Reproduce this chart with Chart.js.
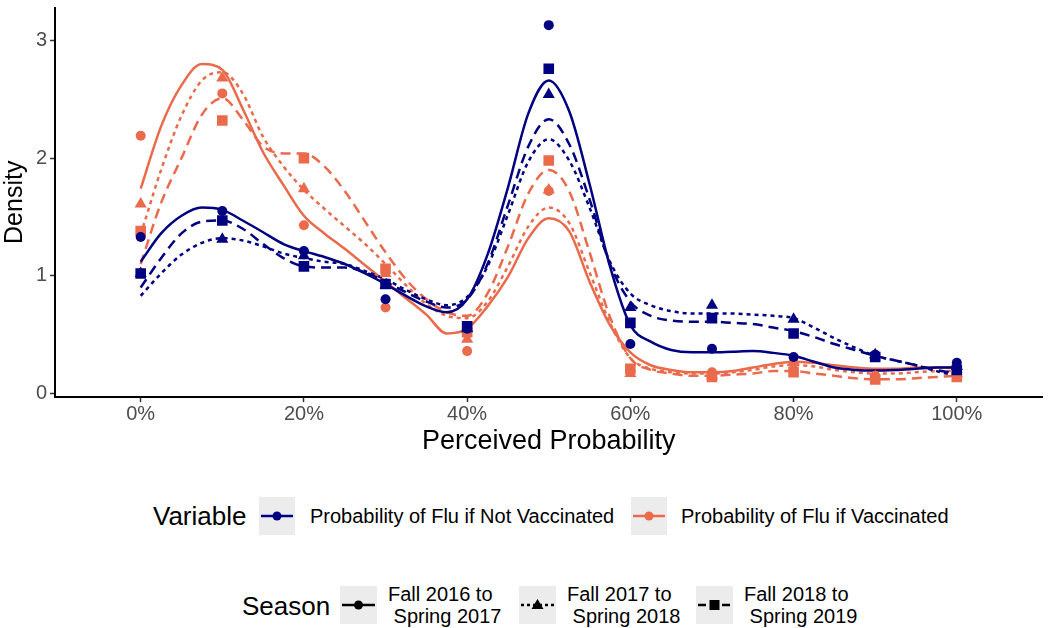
<!DOCTYPE html>
<html>
<head>
<meta charset="utf-8">
<script src="https://cdn.jsdelivr.net/npm/chart.js@4"></script>
<style>
  body { margin: 0; background: #fff; font-family: "Liberation Sans", Arial, sans-serif; }
  #page { position: relative; width: 1050px; height: 628px; overflow: hidden; }
  #wrap { position: absolute; left: 0; top: 0; width: 1050px; height: 470px; }
  .ltitle { position: absolute; font-size: 26px; color: #000; line-height: 1; }
  .lkey { position: absolute; }
  .ltext { position: absolute; font-size: 20px; color: #000; line-height: 22px; white-space: nowrap; }
</style>
</head>
<body>
<div id="page">
  <div id="wrap"><canvas id="chart"></canvas></div>

  <div class="ltitle" style="left:153px; top:503px;">Variable</div>
  <svg class="lkey" id="keyNV" style="left:259px; top:497px;" width="36" height="38"></svg>
  <div class="ltext" style="left:310px; top:505px;">Probability of Flu if Not Vaccinated</div>
  <svg class="lkey" id="keyV" style="left:631px; top:497px;" width="36" height="38"></svg>
  <div class="ltext" style="left:681px; top:505px;">Probability of Flu if Vaccinated</div>

  <div class="ltitle" style="left:242px; top:593px;">Season</div>
  <svg class="lkey" id="keyS1" style="left:340px; top:586px;" width="37" height="38"></svg>
  <div class="ltext" style="left:388px; top:583px;">Fall 2016 to<br>&nbsp;Spring 2017</div>
  <svg class="lkey" id="keyS2" style="left:519px; top:586px;" width="37" height="38"></svg>
  <div class="ltext" style="left:567px; top:583px;">Fall 2017 to<br>&nbsp;Spring 2018</div>
  <svg class="lkey" id="keyS3" style="left:696px; top:586px;" width="37" height="38"></svg>
  <div class="ltext" style="left:744px; top:583px;">Fall 2018 to<br>&nbsp;Spring 2019</div>
</div>

<script>
// observed points, one value per 10% step
const pointX = [0, 10, 20, 30, 40, 50, 60, 70, 80, 90, 100];
const notVacc2016 = [1.33, 1.55, 1.21, 0.80, 0.55, 3.13, 0.42, 0.38, 0.31, 0.33, 0.26];
const notVacc2017 = [1.02, 1.31, 1.17, 0.92, 0.55, 2.54, 0.73, 0.75, 0.63, 0.33, 0.23];
const notVacc2018 = [1.02, 1.47, 1.08, 0.93, 0.57, 2.76, 0.60, 0.64, 0.51, 0.31, 0.20];
const vacc2016 = [2.19, 2.55, 1.43, 0.73, 0.36, 1.72, 0.19, 0.18, 0.26, 0.15, 0.20];
const vacc2017 = [1.61, 2.68, 1.74, 1.02, 0.46, 1.73, 0.17, 0.15, 0.27, 0.14, 0.17];
const vacc2018 = [1.38, 2.32, 2.00, 1.06, 0.52, 1.98, 0.21, 0.14, 0.18, 0.12, 0.14];

// density curves every 2.5%
const curveX = [0, 2.5, 5, 7.5, 10, 12.5, 15, 17.5, 20, 22.5, 25, 27.5, 30, 32.5, 35, 37.5, 40,
  42.5, 45, 47.5, 50, 52.5, 55, 57.5, 60, 62.5, 65, 67.5, 70, 72.5, 75, 77.5, 80, 82.5, 85, 87.5,
  90, 92.5, 95, 97.5, 100];
const notVaccCurve2016 = [1.12, 1.36, 1.51, 1.58, 1.56, 1.47, 1.37, 1.27, 1.21, 1.16, 1.10, 1.02, 0.93,
  0.83, 0.74, 0.69, 0.80, 1.18, 1.75, 2.38, 2.66, 2.40, 1.78, 1.08, 0.58, 0.44, 0.37, 0.35, 0.35,
  0.355, 0.36, 0.345, 0.32, 0.27, 0.22, 0.20, 0.195, 0.20, 0.21, 0.22, 0.22];
const notVaccCurve2017 = [0.83, 1.02, 1.18, 1.28, 1.32, 1.30, 1.25, 1.19, 1.15, 1.12, 1.10, 1.04, 0.97,
  0.88, 0.80, 0.75, 0.82, 1.08, 1.52, 1.97, 2.16, 1.98, 1.58, 1.12, 0.85, 0.75, 0.70, 0.68, 0.68,
  0.68, 0.67, 0.66, 0.64, 0.56, 0.47, 0.39, 0.32, 0.28, 0.24, 0.19, 0.15];
const notVaccCurve2018 = [0.90, 1.15, 1.36, 1.46, 1.47, 1.40, 1.27, 1.15, 1.08, 1.07, 1.07, 1.03, 0.95,
  0.86, 0.78, 0.73, 0.80, 1.10, 1.60, 2.10, 2.33, 2.12, 1.65, 1.10, 0.78, 0.66, 0.62, 0.61, 0.61,
  0.60, 0.59, 0.56, 0.53, 0.48, 0.42, 0.37, 0.32, 0.28, 0.24, 0.20, 0.17];
const vaccCurve2016 = [1.74, 2.27, 2.62, 2.80, 2.75, 2.42, 2.05, 1.77, 1.51, 1.36, 1.23, 1.09, 0.95,
  0.81, 0.67, 0.51, 0.55, 0.74, 0.99, 1.32, 1.49, 1.38, 0.95, 0.58, 0.35, 0.24, 0.20, 0.18, 0.18,
  0.19, 0.22, 0.25, 0.27, 0.26, 0.24, 0.22, 0.21, 0.21, 0.22, 0.22, 0.22];
const vaccCurve2017 = [1.35, 1.90, 2.36, 2.66, 2.73, 2.55, 2.18, 1.93, 1.73, 1.57, 1.42, 1.27, 1.10,
  0.92, 0.76, 0.66, 0.64, 0.78, 1.08, 1.42, 1.58, 1.45, 1.03, 0.60, 0.30, 0.21, 0.18, 0.17, 0.17,
  0.18, 0.20, 0.23, 0.24, 0.23, 0.20, 0.18, 0.17, 0.17, 0.18, 0.19, 0.19];
const vaccCurve2018 = [1.10, 1.62, 2.00, 2.37, 2.51, 2.33, 2.10, 2.04, 2.04, 1.93, 1.72, 1.46, 1.20,
  0.97, 0.80, 0.69, 0.66, 0.85, 1.25, 1.70, 1.90, 1.72, 1.20, 0.65, 0.30, 0.20, 0.17, 0.15, 0.15,
  0.16, 0.17, 0.19, 0.19, 0.17, 0.15, 0.13, 0.12, 0.12, 0.13, 0.14, 0.15];

const xTicks = [0, 20, 40, 60, 80, 100];
const yTicks = [0, 1, 2, 3];

const NAVY = '#000080';
const CORAL = '#EA6A4C';
const dashes = { s2016: [], s2017: [4, 4], s2018: [10, 6] };
const shapes = { s2016: 'circle', s2017: 'triangle', s2018: 'rect' };
const radii = { s2016: 5, s2017: 7, s2018: 7.5 };

function pts(xs, ys) {
    return xs.map((x, i) => ({ x: x, y: ys[i] }));
}

function curveSet(ys, color, season) {
    return {
        data: pts(curveX, ys),
        showLine: true,
        borderColor: color,
        borderWidth: 2.5,
        borderDash: dashes[season],
        pointRadius: 0,
        cubicInterpolationMode: 'monotone',
        fill: false
    };
}

function pointSet(ys, color, season) {
    return {
        data: pts(pointX, ys),
        showLine: false,
        backgroundColor: color,
        borderColor: color,
        borderWidth: 0,
        pointStyle: shapes[season],
        pointRadius: radii[season]
    };
}

const datasets = [
    pointSet(notVacc2016, NAVY, 's2016'),
    pointSet(notVacc2017, NAVY, 's2017'),
    pointSet(notVacc2018, NAVY, 's2018'),
    pointSet(vacc2016, CORAL, 's2016'),
    pointSet(vacc2017, CORAL, 's2017'),
    pointSet(vacc2018, CORAL, 's2018'),
    curveSet(notVaccCurve2016, NAVY, 's2016'),
    curveSet(notVaccCurve2017, NAVY, 's2017'),
    curveSet(notVaccCurve2018, NAVY, 's2018'),
    curveSet(vaccCurve2016, CORAL, 's2016'),
    curveSet(vaccCurve2017, CORAL, 's2017'),
    curveSet(vaccCurve2018, CORAL, 's2018')
];

const ctx = document.getElementById('chart').getContext('2d');
const chart = new Chart(ctx, {
    type: 'scatter',
    data: { datasets: datasets },
    options: {
        responsive: true,
        maintainAspectRatio: false,
        animation: false,
        layout: { padding: { top: 3, right: 2, left: 0, bottom: 0 } },
        plugins: {
            legend: { display: false },
            tooltip: { enabled: false }
        },
        scales: {
            x: {
                type: 'linear',
                min: -10.5,
                max: 110.5,
                afterBuildTicks: function(scale) {
                    scale.ticks = xTicks.map(v => ({ value: v }));
                },
                afterFit: function(scale) {
                    scale.height = 73;
                    scale.paddingLeft = 0;
                    scale.paddingRight = 0;
                },
                ticks: {
                    color: '#4d4d4d',
                    font: { family: 'Liberation Sans', size: 20 },
                    padding: 0,
                    callback: function(value) {
                        return value + '%';
                    }
                },
                grid: {
                    drawOnChartArea: false,
                    tickLength: 5,
                    tickColor: '#333',
                    tickWidth: 1.5
                },
                border: { color: '#000', width: 2 },
                title: {
                    display: true,
                    text: 'Perceived Probability',
                    color: '#000',
                    font: { family: 'Liberation Sans', size: 27 },
                    padding: { top: 0, bottom: 12 }
                }
            },
            y: {
                type: 'linear',
                min: -0.03,
                max: 3.28,
                afterBuildTicks: function(scale) {
                    scale.ticks = yTicks.map(v => ({ value: v }));
                },
                afterFit: function(scale) {
                    // keep the plot top flush with the layout padding
                    scale.width = 55;
                    scale.paddingTop = 0;
                    scale.paddingBottom = 0;
                },
                ticks: {
                    color: '#4d4d4d',
                    font: { family: 'Liberation Sans', size: 20 },
                    padding: 3
                },
                grid: {
                    drawOnChartArea: false,
                    tickLength: 5,
                    tickColor: '#333',
                    tickWidth: 1.5
                },
                border: { color: '#000', width: 2 },
                title: {
                    display: true,
                    text: 'Density',
                    color: '#000',
                    font: { family: 'Liberation Sans', size: 25 },
                    padding: { top: 0, bottom: 0 }
                }
            }
        }
    }
});

// legend keys: grey box with a short line and the marker
function drawKey(id, color, dash, shape) {
    const svg = document.getElementById(id);
    const w = svg.getAttribute('width');
    const mid = w / 2;
    const dashAttr = dash.length ? ` stroke-dasharray="${dash.join(',')}"` : '';
    let marker = '';
    if (shape === 'circle') {
        marker = `<circle cx="${mid}" cy="19" r="4.5" fill="${color}"/>`;
    } else if (shape === 'triangle') {
        marker = `<polygon points="${mid},13 ${mid + 6},23 ${mid - 6},23" fill="${color}"/>`;
    } else {
        marker = `<rect x="${mid - 5}" y="14" width="10" height="10" fill="${color}"/>`;
    }
    svg.innerHTML = `<rect x="0" y="0" width="${w}" height="38" fill="#ececec"/>` +
        `<line x1="2" y1="19" x2="${w - 2}" y2="19" stroke="${color}" stroke-width="2.5"${dashAttr}/>` + marker;
}

drawKey('keyNV', NAVY, [], 'circle');
drawKey('keyV', CORAL, [], 'circle');
drawKey('keyS1', '#000', [], 'circle');
drawKey('keyS2', '#000', [3, 3], 'triangle');
drawKey('keyS3', '#000', [8, 4], 'rect');
</script>
</body>
</html>
